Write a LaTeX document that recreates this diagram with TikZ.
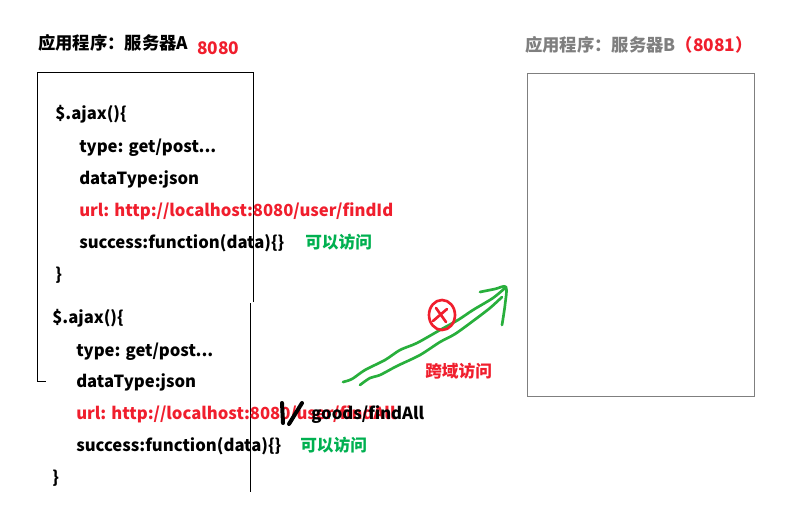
\documentclass[tikz,border=0pt]{standalone}
\usepackage{fontspec}
\setmainfont{Noto Sans CJK SC}
\definecolor{myred}{RGB}{240,30,45}
\definecolor{mygreen}{RGB}{0,176,80}
\definecolor{strokegreen}{RGB}{40,175,60}
\definecolor{mygray}{RGB}{127,127,127}
\begin{document}
\begin{tikzpicture}[x=0.75pt,y=-0.75pt,
  code/.style={anchor=base west,inner sep=0pt,font=\fontsize{12.5}{14}\selectfont\bfseries},
  title/.style={anchor=base west,inner sep=0pt,font=\fontsize{13}{15}\selectfont\bfseries},
  edge/.style={line width=0.75pt},
  hand/.style={line width=2pt,line cap=round,line join=round}]
\useasboundingbox (0,0) rectangle (799,510);
% titles
\node[title] (tA) at (38,50) {应用程序：服务器A};
\node[title,text=myred] (pA) at (197,55) {8080};
\node[title,text=mygray] (tB) at (525,52) {应用程序：服务器B\textcolor{myred}{（8081）}};
% box A outline
\coordinate (a1) at (253,302);
\coordinate (a2) at (253,73);
\coordinate (a3) at (37,73);
\coordinate (a4) at (37,381);
\coordinate (a5) at (46,381);
\draw[edge] (a1) -- (a2) -- (a3) -- (a4) -- (a5);
\coordinate (b1) at (250,303);
\coordinate (b2) at (250,492);
\draw[edge] (b1) -- (b2);
% box B
\node[draw=mygray,line width=1pt,minimum width=227*0.75pt,minimum height=323*0.75pt,anchor=north west,inner sep=0pt] (boxB) at (527,73) {};
% first code block
\node[code] (c1) at (55,119) {\$.ajax()\{};
\node[code] (c2) at (79,152) {type: get/post...};
\node[code] (c3) at (79,184) {dataType:json};
\node[code,text=myred] (c4) at (79,216) {url: http://localhost:8080/user/findId};
\node[code] (c5) at (79,248) {success:function(data)\{\}};
\node[code,text=mygreen] (g1) at (305,248) {可以访问};
\node[code] (c6) at (55,280) {\}};
% second code block
\node[code] (d1) at (52,323) {\$.ajax()\{};
\node[code] (d2) at (76,356) {type: get/post...};
\node[code] (d3) at (76,387) {dataType:json};
\node[code,text=myred] (d4) at (76,419) {url: http://localhost:8080/user/findAll};
\node[code] (d4b) at (311,419) {goods/findAll};
\node[code] (d5) at (76,451) {success:function(data)\{\}};
\node[code,text=mygreen] (g2) at (300,451) {可以访问};
\node[code] (d6) at (52,483) {\}};
% hand-drawn slashes
\draw[hand,line width=3pt] (282,403) -- (283,423);
\draw[hand,line width=3pt] (302,403) -- (289,424);
% green hand arrow
\draw[hand,strokegreen] plot[smooth] coordinates {(343,382) (352,379) (365,370) (385,360) (400,350) (417,343) (440,330) (458,320) (473,310) (493,298) (505,288)};
\draw[hand,strokegreen] plot[smooth] coordinates {(360,385) (370,378) (380,375) (397,366) (420,355) (440,342) (455,334) (473,321) (490,308) (502,297)};
\draw[hand,strokegreen] plot[smooth] coordinates {(480,292) (495,289) (506,287) (505,305) (502,325)};
% red circled x
\draw[hand,myred,line width=2pt] (442,315) ellipse[x radius=13,y radius=15];
\draw[hand,myred,line width=2pt] (436,308) -- (446,322);
\draw[hand,myred,line width=2pt] (447,309) -- (433,321);
\node[code,text=myred] (k) at (425,377) {跨域访问};
\end{tikzpicture}
\end{document}
